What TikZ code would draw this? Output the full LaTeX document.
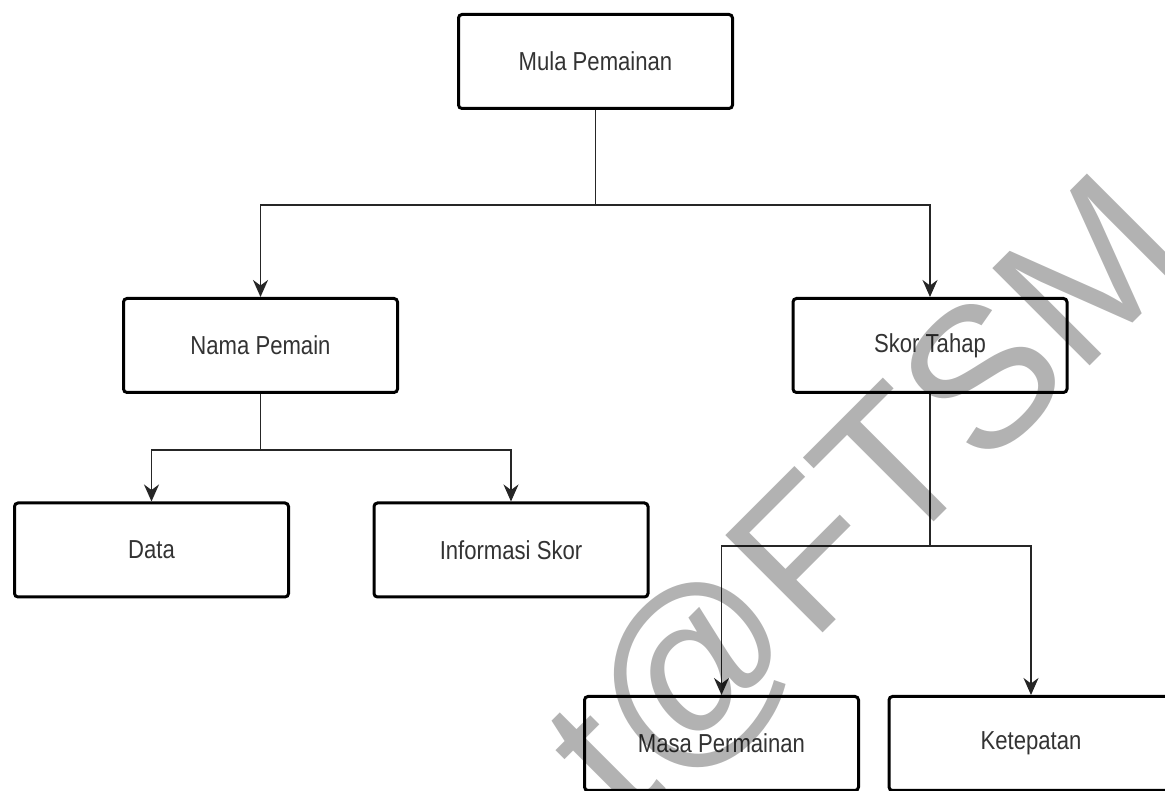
\documentclass[tikz,border=0pt]{standalone}
\usepackage{fontspec}
\setmainfont{Liberation Sans}
\newfontfamily\labelfont[FakeStretch=0.85]{Liberation Sans}
\newfontfamily\markfont{Liberation Sans}
\usetikzlibrary{arrows.meta}

\tikzset{
  box/.style={draw=black, line width=3pt, rounded corners=3.5pt, fill=white,
    minimum width=274pt, minimum height=94pt, inner sep=0pt,
    text=black!80, font=\labelfont\fontsize{26}{30}\selectfont},
  conn/.style={draw=black!85, line width=1.6pt,
    -{Stealth[length=17pt,width=15pt,inset=5.5pt]}},
  trunk/.style={draw=black!85, line width=1.6pt},
  stamp/.style={text=black, opacity=0.3, inner sep=0pt,
    font=\markfont\fontsize{200}{200}\selectfont}
}

\begin{document}
\begin{tikzpicture}[x=1pt,y=1pt]
  \useasboundingbox (0,0) rectangle (1165,791);
  \clip (0,0) rectangle (1165,791);
  \fill[white] (0,0) rectangle (1165,791);

  % hierarchy boxes
  \node[box] (mula) at (595.5,729.5) {Mula Pemainan};
  \node[box] (nama) at (260.5,445.5) {Nama Pemain};
  \node[box] (skor) at (930,445.5) {Skor Tahap};
  \node[box] (data) at (151.5,241) {Data};
  \node[box] (info) at (511,241) {Informasi Skor};
  \node[box] (masa) at (721.5,47.5) {Masa Permainan};
  \node[box, minimum width=284pt] (tepat) at (1031,47.5) {Ketepatan};

  % horizontal levels of the branching lines
  \coordinate (lvlA) at (0,586);
  \coordinate (lvlB) at (0,341);
  \coordinate (lvlC) at (0,245);

  % root to first level
  \draw[trunk] (mula.south) -- (mula.south |- lvlA);
  \draw[conn] (mula.south |- lvlA) -| (nama.north);
  \draw[conn] (mula.south |- lvlA) -| (skor.north);

  % Nama Pemain branch
  \draw[trunk] (nama.south) -- (nama.south |- lvlB);
  \draw[conn] (nama.south |- lvlB) -| (data.north);
  \draw[conn] (nama.south |- lvlB) -| (info.north);

  % Skor Tahap branch
  \draw[trunk] (skor.south) -- (skor.south |- lvlC);
  \draw[conn] (skor.south |- lvlC) -| (masa.north);
  \draw[conn] (skor.south |- lvlC) -| (tepat.north);

  % watermark stamp
  \node[stamp, rotate=45, anchor=base west] (wm) at (628,-37) {t@FTSM};
\end{tikzpicture}
\end{document}
